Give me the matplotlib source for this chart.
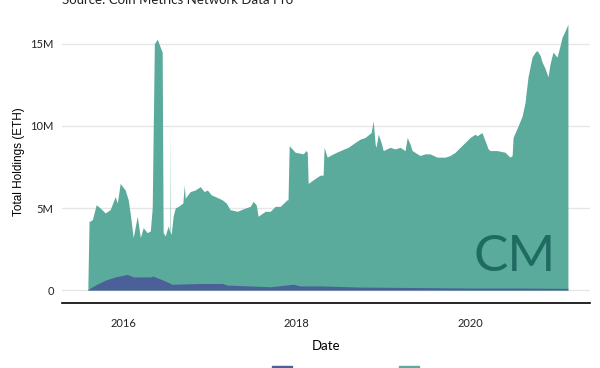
import numpy as np
import pandas as pd
import matplotlib
matplotlib.use("Agg")
import matplotlib.pyplot as plt
from matplotlib.patches import Patch
from matplotlib.ticker import FuncFormatter

# teal series: total holdings (ETH)
teal_dates = ["2015-08-05", "2015-08-10", "2015-08-15", "2015-08-24", "2015-09-09", "2015-09-26",
              "2015-10-17", "2015-11-07", "2015-11-28", "2015-12-07", "2015-12-19", "2016-01-09",
              "2016-01-22", "2016-01-30", "2016-02-12", "2016-02-29", "2016-03-13", "2016-03-25",
              "2016-04-11", "2016-04-24", "2016-05-02", "2016-05-11", "2016-05-23", "2016-06-05",
              "2016-06-13", "2016-06-17", "2016-06-26", "2016-07-08", "2016-07-16", "2016-07-17",
              "2016-07-18", "2016-07-21", "2016-07-29", "2016-08-07", "2016-08-20", "2016-09-08",
              "2016-09-14", "2016-09-18", "2016-10-09", "2016-10-30", "2016-11-20", "2016-12-07",
              "2016-12-20", "2017-01-06", "2017-01-22", "2017-02-21", "2017-03-10", "2017-03-26",
              "2017-04-25", "2017-05-29", "2017-06-19", "2017-07-01", "2017-07-14", "2017-07-22",
              "2017-08-21", "2017-09-11", "2017-10-02", "2017-10-23", "2017-11-21", "2017-11-25",
              "2017-11-30", "2017-12-25", "2018-01-28", "2018-02-09", "2018-02-14", "2018-02-18",
              "2018-03-19", "2018-04-09", "2018-04-22", "2018-04-26", "2018-05-09", "2018-06-03",
              "2018-07-03", "2018-08-05", "2018-09-04", "2018-09-25", "2018-10-16", "2018-11-10",
              "2018-11-19", "2018-11-27", "2018-12-01", "2018-12-10", "2018-12-22", "2018-12-31",
              "2019-01-29", "2019-02-19", "2019-03-12", "2019-04-02", "2019-04-11", "2019-04-23",
              "2019-05-02", "2019-06-04", "2019-06-25", "2019-07-16", "2019-08-15", "2019-09-18",
              "2019-10-09", "2019-10-30", "2019-11-20", "2019-12-11", "2020-01-01", "2020-01-22",
              "2020-01-30", "2020-02-20", "2020-03-04", "2020-03-17", "2020-03-25", "2020-04-24",
              "2020-05-27", "2020-06-17", "2020-06-26", "2020-06-30", "2020-07-21", "2020-08-07",
              "2020-08-19", "2020-09-01", "2020-09-18", "2020-10-01", "2020-10-09", "2020-10-22",
              "2020-10-30", "2020-11-12", "2020-11-24", "2020-12-03", "2020-12-15", "2021-01-01",
              "2021-01-14", "2021-01-22", "2021-02-04", "2021-02-16"]
teal_values = [0.3, 4.2, 4.2, 4.3, 5.2, 5.0,
               4.7, 4.9, 5.7, 5.3, 6.5, 6.1,
               5.5, 4.7, 3.2, 4.5, 3.2, 3.8,
               3.5, 3.6, 5.0, 15.0, 15.3, 14.8,
               14.5, 3.5, 3.3, 3.9, 3.5, 10.2,
               3.5, 3.4, 4.5, 5.0, 5.1, 5.3,
               6.4, 5.6, 6.0, 6.1, 6.3, 6.0,
               6.1, 5.8, 5.7, 5.5, 5.3, 4.9,
               4.8, 5.0, 5.1, 5.4, 5.2, 4.5,
               4.8, 4.8, 5.1, 5.1, 5.5, 5.5,
               8.8, 8.4, 8.3, 8.5, 8.4, 6.5,
               6.8, 7.0, 7.0, 8.7, 8.1, 8.3,
               8.5, 8.7, 9.0, 9.2, 9.3, 9.6,
               10.3, 8.9, 8.7, 9.5, 9.0, 8.5,
               8.7, 8.6, 8.7, 8.5, 9.3, 8.9,
               8.5, 8.2, 8.3, 8.3, 8.1, 8.1,
               8.2, 8.4, 8.7, 9.0, 9.3, 9.5,
               9.4, 9.6, 9.1, 8.6, 8.5, 8.5,
               8.4, 8.1, 8.2, 9.3, 10.0, 10.6,
               11.4, 13.0, 14.2, 14.5, 14.6, 14.3,
               13.9, 13.5, 13.0, 13.8, 14.5, 14.2,
               14.9, 15.4, 15.8, 16.2]

# dark blue series
blue_dates = ["2015-08-02", "2015-09-05", "2015-10-17", "2015-11-28", "2016-01-18", "2016-02-12",
              "2016-04-24", "2016-05-06", "2016-06-17", "2016-07-25", "2016-11-20", "2017-02-21",
              "2017-03-14", "2017-06-19", "2017-09-11", "2017-12-17", "2018-01-15", "2018-04-09",
              "2018-09-25", "2019-06-04", "2020-01-01", "2020-07-29", "2021-02-16"]
blue_values = [0.0, 0.3, 0.6, 0.8, 0.95, 0.8,
               0.8, 0.85, 0.6, 0.35, 0.4, 0.4,
               0.3, 0.25, 0.2, 0.35, 0.25, 0.25,
               0.18, 0.15, 0.12, 0.12, 0.1]

teal_x = pd.to_datetime(teal_dates)
teal_y = np.array(teal_values) * 1e6
blue_x = pd.to_datetime(blue_dates)
blue_y = np.array(blue_values) * 1e6

teal = "#5aab9b"
blue = "#4b5f98"

fig = plt.figure(figsize=(6, 3.68), dpi=100)
ax = fig.add_axes([62 / 600, 1 - 303 / 368, 528 / 600, 283 / 368])

ax.fill_between(teal_x, 0, teal_y, color=teal, linewidth=0)
ax.fill_between(blue_x, 0, blue_y, color=blue, linewidth=0)

ax.set_xlim(pd.Timestamp("2015-04-18"), pd.Timestamp("2021-05-20"))
ax.set_ylim(-0.79e6, 16.46e6)

ax.set_yticks([0, 5e6, 10e6, 15e6])
ax.yaxis.set_major_formatter(FuncFormatter(lambda v, p: "0" if v == 0 else f"{v / 1e6:.0f}M"))
ax.set_xticks(pd.to_datetime(["2016-01-01", "2018-01-01", "2020-01-01"]))
ax.set_xticklabels(["2016", "2018", "2020"])

ax.grid(axis="y", color="#e6e6e6", linewidth=1)
ax.set_axisbelow(True)
for s in ["left", "right", "top"]:
    ax.spines[s].set_visible(False)
ax.spines["bottom"].set_color("black")
ax.spines["bottom"].set_linewidth(1.2)
ax.tick_params(length=0, labelsize=8, colors="#222222", pad=6)
for lab in ax.get_xticklabels() + ax.get_yticklabels():
    lab.set_family("Lato")
ax.tick_params(axis="x", pad=11)

ax.set_xlabel("Date", fontsize=9.5, family="Lato", labelpad=8)
ax.set_ylabel("Total Holdings (ETH)", fontsize=8.5, family="Liberation Sans", labelpad=4)

fig.text(62 / 600, 1.0, "Source: Coin Metrics Network Data Pro", fontsize=9.5,
         family="Lato", color="#222222", ha="left", va="center")

# Coin Metrics watermark
ax.text(0.858, 0.163, "CM", transform=ax.transAxes, fontsize=37, family="Lato",
        fontweight="normal", color="#1f6b61", ha="center", va="center")

# legend swatches (labels fall below the picture edge in the reference)
handles = [Patch(color=blue), Patch(color=teal)]
fig.legend(handles, ["", ""], loc="upper center", ncol=2,
           bbox_to_anchor=(350 / 600, 1 - 360 / 368), frameon=False, handlelength=1.8,
           handleheight=1.2, handletextpad=0.8, columnspacing=8.9, borderpad=0,
           fontsize=8)

fig.savefig("out.png", dpi=100)
